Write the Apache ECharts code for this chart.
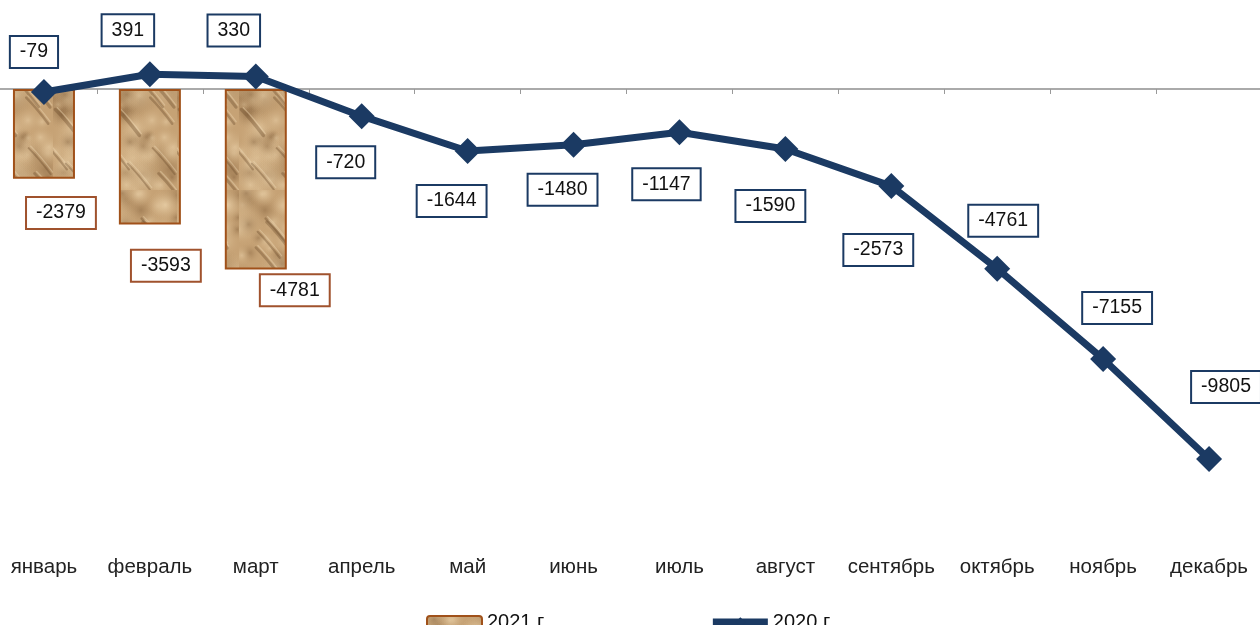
<!DOCTYPE html>
<html>
<head>
<meta charset="utf-8">
<script src="https://cdn.jsdelivr.net/npm/echarts@6/dist/echarts.min.js"></script>
<style>
  html, body { margin: 0; padding: 0; background: #fff; overflow: hidden; }
  #chart { width: 1271px; height: 625px; margin-left: -9px; }
</style>
</head>
<body>
<div id="chart"></div>
<script>
  // данные
  const months = ['январь', 'февраль', 'март', 'апрель', 'май', 'июнь', 'июль', 'август', 'сентябрь', 'октябрь', 'ноябрь', 'декабрь'];
  const values2021 = [-2379, -3593, -4781];
  const values2020 = [-79, 391, 330, -720, -1644, -1480, -1147, -1590, -2573, -4761, -7155, -9805];

  // смещения подписей (как вручную сдвинуто в Excel)
  const barLabelOffsets = [[17, 79], [16, 109], [39, 111]];
  const lineLabelOffsets = [[-10, -40], [-22, -44], [-22, -46], [-16, 46], [-16, 50], [-11, 45],
    [-13, 52], [-15, 57], [-13, 64], [6, -48], [14, -51], [17, -72]];

  // текстура "мятая бумага" для столбцов
  function makeTexture() {
    let c = document.createElement('canvas');
    c.width = 62; c.height = 190;
    let ctx = c.getContext('2d');
    ctx.fillStyle = '#c6a275';
    ctx.fillRect(0, 0, c.width, c.height);
    let h = function (n) { let s = Math.sin(n * 12.9898) * 43758.5453; return s - Math.floor(s); };
    for (let i = 0; i < 80; i++) {
      let x = h(i + 1) * 62, y = h(i + 101) * 190, r = 6 + h(i + 201) * 18;
      let light = h(i + 301) > 0.45;
      let g = ctx.createRadialGradient(x, y, 0, x, y, r);
      g.addColorStop(0, light ? 'rgba(235,210,170,0.55)' : 'rgba(115,80,45,0.38)');
      g.addColorStop(1, 'rgba(200,165,120,0)');
      ctx.fillStyle = g;
      ctx.fillRect(x - r, y - r, 2 * r, 2 * r);
    }
    ctx.lineCap = 'round';
    for (let i = 0; i < 12; i++) {
      let x = h(i + 401) * 62, y = h(i + 501) * 190;
      ctx.strokeStyle = 'rgba(100,68,38,0.35)';
      ctx.lineWidth = 1.5 + h(i + 601) * 2;
      ctx.beginPath();
      ctx.moveTo(x - 10, y - 12);
      ctx.quadraticCurveTo(x, y - 2, x + 12, y + 14);
      ctx.stroke();
      ctx.strokeStyle = 'rgba(240,220,185,0.4)';
      ctx.lineWidth = 1.2;
      ctx.beginPath();
      ctx.moveTo(x - 8, y - 14);
      ctx.quadraticCurveTo(x + 2, y - 4, x + 14, y + 12);
      ctx.stroke();
    }
    return c;
  }
  const texture = makeTexture();

  const labelBox = {
    show: true,
    position: 'inside',
    fontFamily: 'Liberation Sans',
    fontSize: 19.5,
    color: '#111',
    backgroundColor: '#fff',
    borderWidth: 2,
    padding: [5, 9],
    lineHeight: 20
  };

  const navy = '#1b3a63';

  let chart = echarts.init(document.getElementById('chart'));
  chart.setOption({
    animation: false,
    textStyle: { fontFamily: 'Liberation Sans' },
    grid: { left: 0, width: 1271, top: 13.5, height: 528.4 },
    legend: {
      left: 430,
      top: 607,
      itemGap: 165,
      itemWidth: 55,
      itemHeight: 12,
      textStyle: { fontSize: 20, color: '#111', fontFamily: 'Liberation Sans' },
      data: ['2021 г', { name: '2020 г', lineStyle: { width: 7, color: navy } }]
    },
    xAxis: [{
      type: 'category',
      data: months,
      axisLine: { onZero: true, lineStyle: { color: '#aaa', width: 2 } },
      axisTick: { show: true, length: 5, lineStyle: { color: '#999', width: 1 } },
      axisLabel: { show: false }
    }, {
      type: 'category',
      data: months,
      position: 'bottom',
      axisLine: { show: false, onZero: false },
      axisTick: { show: false },
      axisLabel: { fontSize: 20.5, color: '#222', margin: 15, interval: 0 }
    }],
    yAxis: {
      type: 'value',
      min: -12000,
      max: 2000,
      show: false,
      splitLine: { show: false }
    },
    series: [{
      name: '2021 г',
      type: 'bar',
      barWidth: 62,
      data: values2021.map((v, i) => ({
        value: v,
        label: Object.assign({}, labelBox, { borderColor: '#a0522d', offset: barLabelOffsets[i] })
      })),
      itemStyle: {
        color: { image: texture, repeat: 'repeat' },
        borderColor: '#a0511a',
        borderWidth: 2
      },
      z: 2
    }, {
      name: '2020 г',
      type: 'line',
      data: values2020.map((v, i) => ({
        value: v,
        label: Object.assign({}, labelBox, { borderColor: navy, offset: lineLabelOffsets[i] })
      })),
      symbol: 'diamond',
      symbolSize: 26,
      lineStyle: { color: navy, width: 7 },
      itemStyle: { color: navy },
      z: 5
    }]
  });
</script>
</body>
</html>
